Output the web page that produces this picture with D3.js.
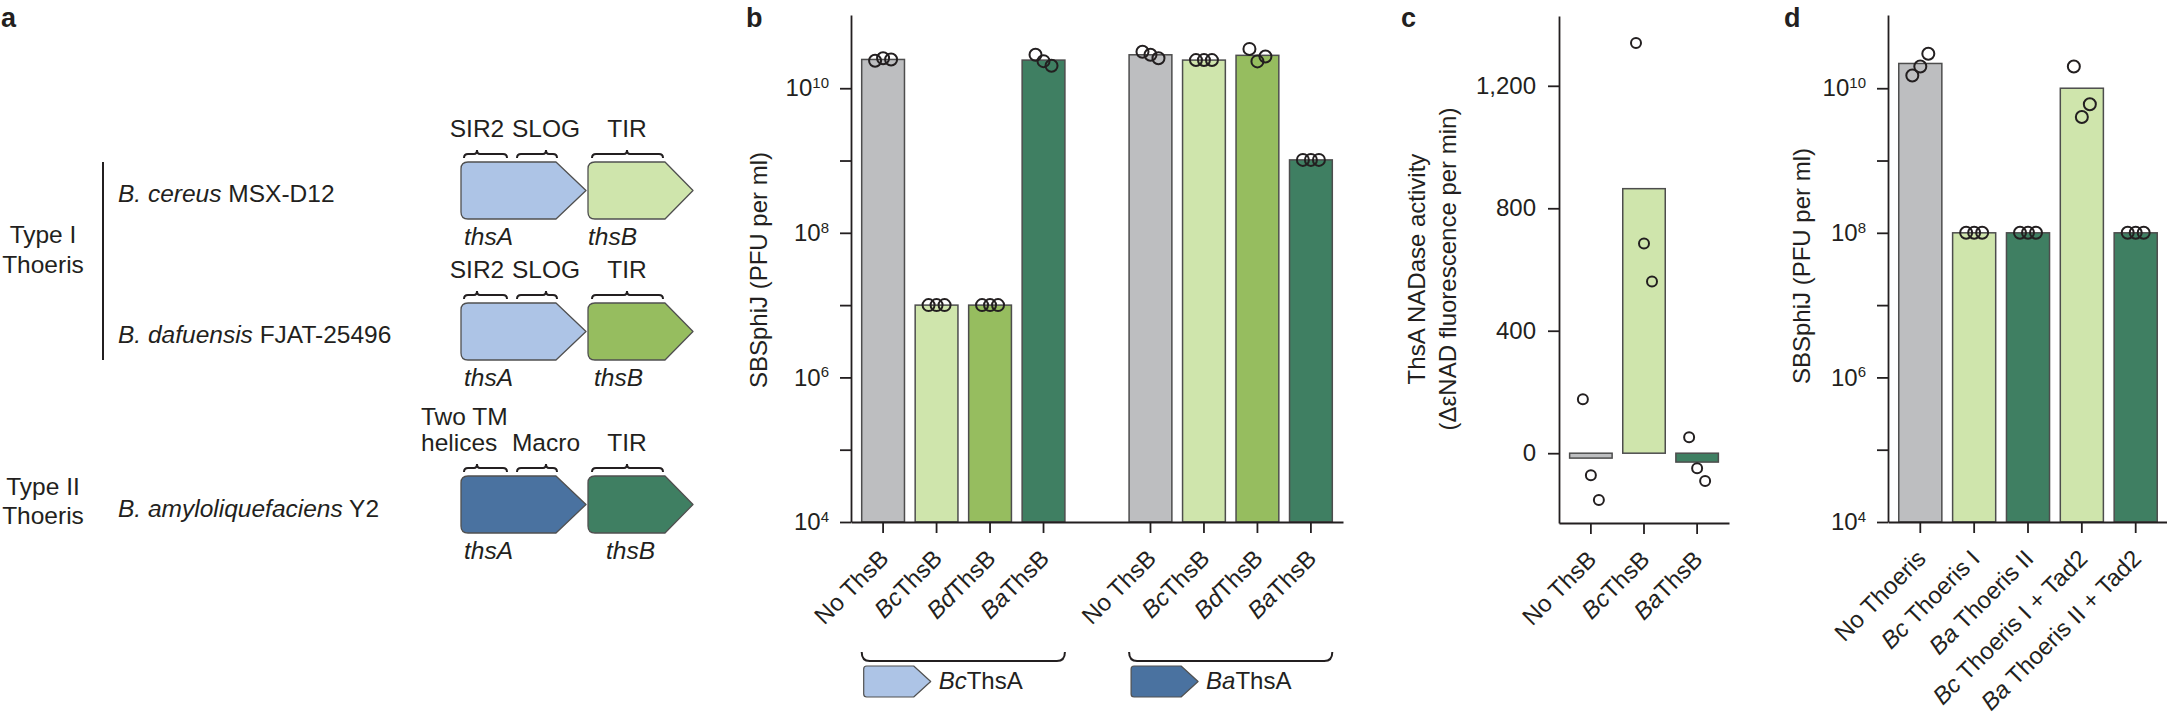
<!DOCTYPE html>
<html>
<head>
<meta charset="utf-8">
<script src="https://cdn.jsdelivr.net/npm/d3@7"></script>
<style>
  body { margin: 0; background: #fff; }
  text { font-family: "Liberation Sans", Arial, Helvetica, sans-serif; fill: #231f20; white-space: pre; }
</style>
</head>
<body>
<svg id="fig" width="2167" height="717"></svg>
<script>
// ---------------- data ----------------
// panel b : SBSphiJ titre (PFU per ml) with BcThsA or BaThsA
const bGroups = ["BcThsA", "BaThsA"];
const bCategories = ["No ThsB", "BcThsB", "BdThsB", "BaThsB"];
const bMeansBc = [2.5e10, 1.0e7, 1.0e7, 2.45e10];
const bRepsBc = [[2.4e10, 2.6e10, 2.5e10], [1.0e7, 1.0e7, 1.0e7], [1.0e7, 1.0e7, 1.0e7], [2.9e10, 2.37e10, 2.05e10]];
const bMeansBa = [2.9e10, 2.45e10, 2.85e10, 1.02e9];
const bRepsBa = [[3.2e10, 2.9e10, 2.6e10], [2.45e10, 2.45e10, 2.45e10], [3.5e10, 2.35e10, 2.75e10], [1.02e9, 1.02e9, 1.02e9]];

// panel c : ThsA NADase activity
const cCategories = ["No ThsB", "BcThsB", "BaThsB"];
const cMeans = [-16, 864, -29];
const cReps = [[176, -72, -153], [1340, 685, 561], [52, -49, -91]];
const cTicks = [0, 400, 800, 1200];

// panel d : SBSphiJ titre with Thoeris systems
const dCategories = ["No Thoeris", "Bc Thoeris I", "Ba Thoeris II", "Bc Thoeris I + Tad2", "Ba Thoeris II + Tad2"];
const dMeans = [2.2e10, 1.0e8, 1.0e8, 1.0e10, 1.0e8];
const dReps = [[1.5e10, 2.0e10, 3.0e10], [1.0e8, 1.0e8, 1.0e8], [1.0e8, 1.0e8, 1.0e8], [2.0e10, 4.0e9, 6.0e9], [1.0e8, 1.0e8, 1.0e8]];

// log axis ticks (labels on even powers only)
const logTicks = [1e4, 1e5, 1e6, 1e7, 1e8, 1e9, 1e10];

// panel a : operon schematics
const aSpecies = ["B. cereus", "B. dafuensis", "B. amyloliquefaciens"];
const aStrains = [" MSX-D12", " FJAT-25496", " Y2"];

// ---------------- style ----------------
const INK = "#231f20";
const GREY = "#bdbec0", LGREEN = "#cfe5ac", MGREEN = "#96bd5f", DGREEN = "#3f7f62";
const LBLUE = "#adc4e6", DBLUE = "#4a72a0";
const FS = 24;
const jitter = [-8, 0, 8];
const svg = d3.select("#fig");
svg.append("rect").attr("width", 2167).attr("height", 717).attr("fill", "#fff");

function italicPrefix(sel, s) {
  // Bc / Bd / Ba prefixes are set in italic
  const m = s.match(/^(B[cda])(.*)$/);
  sel.text(null);
  if (m) {
    sel.append("tspan").style("font-style", "italic").text(m[1]);
    sel.append("tspan").text(m[2]);
  } else {
    sel.text(s);
  }
}

function styleAxis(g) {
  g.attr("font-size", FS).attr("font-family", null);
  g.select(".domain").attr("stroke", INK).attr("stroke-width", 1.8);
  g.selectAll(".tick line").attr("stroke", INK).attr("stroke-width", 1.8);
  g.selectAll(".tick text").attr("fill", INK).style("font-size", FS + "px");
}

function rotateTickLabels(g) {
  g.selectAll(".tick text")
    .attr("x", 0).attr("y", 0).attr("dy", 0)
    .attr("text-anchor", "end")
    .attr("transform", "translate(7,38) rotate(-45)")
    .each(function(d) { italicPrefix(d3.select(this), d.includes("|") ? d.split("|")[1] : d); });
}

function logLabels(g) {
  g.selectAll(".tick text").each(function(d) {
    const e = Math.round(Math.log10(d));
    if (e % 2) return;
    const t = d3.select(this);
    t.append("tspan").text("10");
    t.append("tspan").attr("dy", "-0.55em").style("font-size", "15px").text(e);
  });
}

function panelLabel(x, y, s) {
  svg.append("text").attr("x", x).attr("y", y)
    .style("font-size", "27px").style("font-weight", "bold").text(s);
}

function yTitle(x, y, lines) {
  const t = svg.append("text")
    .attr("transform", `translate(${x},${y}) rotate(-90)`)
    .attr("text-anchor", "middle").style("font-size", FS + "px");
  lines.forEach((s, i) => {
    t.append("tspan").attr("x", 0).attr("dy", i === 0 ? (-(lines.length - 1) * 0.65 + 0.35) + "em" : "1.3em").text(s);
  });
}

function geneArrow(x0, x1, y0, h, head, r) {
  const y1 = y0 + h, ym = y0 + h / 2, xh = x1 - head;
  return `M${x0 + r},${y0}H${xh}L${x1},${ym}L${xh},${y1}H${x0 + r}Q${x0},${y1} ${x0},${y1 - r}V${y0 + r}Q${x0},${y0} ${x0 + r},${y0}Z`;
}

function domainBracket(x0, x1, xp, ym) {
  return `M${x0},${ym + 4}Q${x0},${ym} ${x0 + 4},${ym}H${xp - 3}Q${xp},${ym} ${xp},${ym - 4}` +
         `Q${xp},${ym} ${xp + 3},${ym}H${x1 - 4}Q${x1},${ym} ${x1},${ym + 4}`;
}

function points(g, xs, ys, reps, keys, r) {
  reps.forEach((vals, i) => {
    vals.forEach((v, j) => {
      g.append("circle")
        .attr("cx", xs(keys[i]) + xs.bandwidth() / 2 + jitter[j])
        .attr("cy", ys(v))
        .attr("r", r)
        .attr("fill", "none").attr("stroke", INK).attr("stroke-width", 2);
    });
  });
}

// ================= panel a =================
panelLabel(1, 27, "a");
const aFS = 24.5;
const aTxt = (x, y, s, anchor) => svg.append("text").attr("x", x).attr("y", y)
  .attr("text-anchor", anchor || "start").style("font-size", aFS + "px").text(s);

// system type labels and bracket line
aTxt(43, 243, "Type I", "middle");
aTxt(43, 273, "Thoeris", "middle");
aTxt(43, 495, "Type II", "middle");
aTxt(43, 524, "Thoeris", "middle");
svg.append("line").attr("x1", 103).attr("x2", 103).attr("y1", 162).attr("y2", 360)
  .attr("stroke", INK).attr("stroke-width", 2);

const rowTop = [162, 303, 476];
const speciesY = [202, 343, 517];
const thsAFill = [LBLUE, LBLUE, DBLUE];
const thsBFill = [LGREEN, MGREEN, DGREEN];
const thsBLabX = [588, 594, 606];

aSpecies.forEach((sp, i) => {
  const t = svg.append("text").attr("x", 118).attr("y", speciesY[i]).style("font-size", aFS + "px");
  t.append("tspan").style("font-style", "italic").text(sp);
  t.append("tspan").text(aStrains[i]);

  const top = rowTop[i];
  svg.append("path").attr("d", geneArrow(461, 586, top, 57, 30, 7))
    .attr("fill", thsAFill[i]).attr("stroke", "#505050").attr("stroke-width", 1.3).attr("stroke-linejoin", "round");
  svg.append("path").attr("d", geneArrow(588, 693, top, 57, 28, 7))
    .attr("fill", thsBFill[i]).attr("stroke", "#505050").attr("stroke-width", 1.3).attr("stroke-linejoin", "round");

  const bm = top - 8;
  [[464, 507, 477], [517, 557, 546], [592, 663, 627]].forEach(b => {
    svg.append("path").attr("d", domainBracket(b[0], b[1], b[2], bm))
      .attr("fill", "none").attr("stroke", INK).attr("stroke-width", 2);
  });

  const lab = top - 25;
  if (i < 2) {
    aTxt(477, lab, "SIR2", "middle");
    aTxt(546, lab, "SLOG", "middle");
  } else {
    aTxt(421, lab - 26, "Two TM");
    aTxt(421, lab, "helices");
    aTxt(546, lab, "Macro", "middle");
  }
  aTxt(627, lab, "TIR", "middle");

  aTxt(464, top + 83, "thsA").style("font-style", "italic");
  aTxt(thsBLabX[i], top + 83, "thsB").style("font-style", "italic");
});

// ================= panel b =================
panelLabel(746, 27, "b");
const bSlots = [...bCategories.map(c => bGroups[0] + "|" + c), "gap", ...bCategories.map(c => bGroups[1] + "|" + c)];
const bKeys1 = bSlots.slice(0, 4), bKeys2 = bSlots.slice(5);
const xb = d3.scaleBand().domain(bSlots).range([851, 1343]).paddingInner(0.2).paddingOuter(0.2);
const yb = d3.scaleLog().domain([1e4, 1.03e11]).range([522, 15]);
const barFillsB = [GREY, LGREEN, MGREEN, DGREEN];

const gb = svg.append("g");
[[bKeys1, bMeansBc], [bKeys2, bMeansBa]].forEach(([keys, means]) => {
  gb.selectAll(null).data(means).enter().append("rect")
    .attr("x", (d, i) => xb(keys[i])).attr("width", xb.bandwidth())
    .attr("y", d => yb(d)).attr("height", d => yb(1e4) - yb(d))
    .attr("fill", (d, i) => barFillsB[i]).attr("stroke", "#4d4d4d").attr("stroke-width", 1.5);
});
points(gb, xb, yb, bRepsBc, bKeys1, 6);
points(gb, xb, yb, bRepsBa, bKeys2, 6);

const gbY = svg.append("g").attr("transform", "translate(851,0)")
  .call(d3.axisLeft(yb).tickValues(logTicks).tickSize(11).tickSizeOuter(0).tickPadding(11).tickFormat(() => ""));
styleAxis(gbY); logLabels(gbY);
const gbX = svg.append("g").attr("transform", "translate(0,522)")
  .call(d3.axisBottom(xb).tickValues(bKeys1.concat(bKeys2)).tickSize(11).tickSizeOuter(0));
styleAxis(gbX); rotateTickLabels(gbX);
yTitle(759, 270, ["SBSphiJ (PFU per ml)"]);

// group brackets + ThsA icons
[[bKeys1, LBLUE], [bKeys2, DBLUE]].forEach(([keys, fill], gi) => {
  const x0 = xb(keys[0]), x1 = xb(keys[3]) + xb.bandwidth();
  svg.append("path").attr("d", `M${x0},652Q${x0},661 ${x0 + 8},661H${x1 - 8}Q${x1},661 ${x1},652`)
    .attr("fill", "none").attr("stroke", INK).attr("stroke-width", 2);
  svg.append("path").attr("d", geneArrow(x0 + 2, x0 + 69, 666, 31, 17, 3))
    .attr("fill", fill).attr("stroke", "#505050").attr("stroke-width", 1.2).attr("stroke-linejoin", "round");
  const t = svg.append("text").attr("x", x0 + 77).attr("y", 689).style("font-size", FS + "px");
  italicPrefix(t, bGroups[gi]);
});

// ================= panel c =================
panelLabel(1401, 27, "c");
const xc = d3.scaleBand().domain(cCategories).range([1559, 1729]).paddingInner(0.2).paddingOuter(0.2);
const yc = d3.scaleLinear().domain([-228, 1428]).range([523, 16]);
const barFillsC = [GREY, LGREEN, DGREEN];
const gc = svg.append("g");
gc.selectAll(null).data(cMeans).enter().append("rect")
  .attr("x", (d, i) => xc(cCategories[i])).attr("width", xc.bandwidth())
  .attr("y", d => Math.min(yc(d), yc(0))).attr("height", d => Math.abs(yc(d) - yc(0)))
  .attr("fill", (d, i) => barFillsC[i]).attr("stroke", "#4d4d4d").attr("stroke-width", 1.5);
points(gc, xc, yc, cReps, cCategories, 5);
const gcY = svg.append("g").attr("transform", "translate(1559,0)")
  .call(d3.axisLeft(yc).tickValues(cTicks).tickSize(11).tickSizeOuter(0).tickPadding(12).tickFormat(d3.format(",")));
styleAxis(gcY);
const gcX = svg.append("g").attr("transform", "translate(0,523)")
  .call(d3.axisBottom(xc).tickSize(11).tickSizeOuter(0));
styleAxis(gcX); rotateTickLabels(gcX);
yTitle(1432, 269, ["ThsA NADase activity", "(\u0394\u03b5NAD fluorescence per min)"]);

// ================= panel d =================
panelLabel(1784, 27, "d");
const xd = d3.scaleBand().domain(dCategories).range([1888, 2168]).paddingInner(0.2).paddingOuter(0.2);
const yd = d3.scaleLog().domain([1e4, 1.03e11]).range([522, 15]);
const barFillsD = [GREY, LGREEN, DGREEN, LGREEN, DGREEN];
const gd = svg.append("g");
gd.selectAll(null).data(dMeans).enter().append("rect")
  .attr("x", (d, i) => xd(dCategories[i])).attr("width", xd.bandwidth())
  .attr("y", d => yd(d)).attr("height", d => yd(1e4) - yd(d))
  .attr("fill", (d, i) => barFillsD[i]).attr("stroke", "#4d4d4d").attr("stroke-width", 1.5);
points(gd, xd, yd, dReps, dCategories, 6);
const gdY = svg.append("g").attr("transform", "translate(1888,0)")
  .call(d3.axisLeft(yd).tickValues(logTicks).tickSize(11).tickSizeOuter(0).tickPadding(11).tickFormat(() => ""));
styleAxis(gdY); logLabels(gdY);
const gdX = svg.append("g").attr("transform", "translate(0,522)")
  .call(d3.axisBottom(xd).tickSize(11).tickSizeOuter(0));
styleAxis(gdX); rotateTickLabels(gdX);
yTitle(1802, 266, ["SBSphiJ (PFU per ml)"]);
</script>
</body>
</html>
